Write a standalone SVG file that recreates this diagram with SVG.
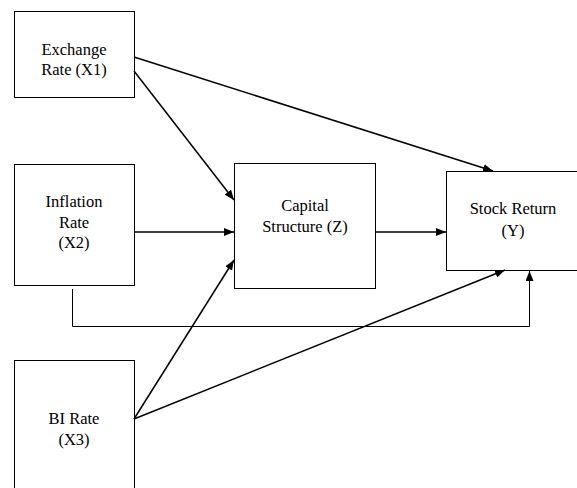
<svg xmlns="http://www.w3.org/2000/svg" width="577" height="488" viewBox="0 0 577 488">
<defs>
<marker id="arr" viewBox="0 0 10 8" refX="10" refY="4" markerWidth="10" markerHeight="8" markerUnits="userSpaceOnUse" orient="auto">
<path d="M0,0 L10,4 L0,8 Z" fill="#000"/>
</marker>
<style>
.box{fill:#fff;stroke:#000;stroke-width:1}
.c{fill:none;stroke:#000;stroke-width:1.5}
</style>
</defs>
<rect width="577" height="488" fill="#fff"/>
<g font-family="Liberation Serif" font-size="16.5" text-anchor="middle" fill="#000">
<g id="x1"><rect class="box" x="14.5" y="11.5" width="120" height="86"/><text x="74" y="55">Exchange</text><text x="74" y="75">Rate (X1)</text></g>
<g id="x2"><rect class="box" x="14.5" y="164.5" width="120" height="121"/><text x="74" y="207">Inflation</text><text x="74" y="228">Rate</text><text x="74" y="248">(X2)</text></g>
<g id="x3"><rect class="box" x="14.5" y="360.5" width="120" height="140"/><text x="74" y="424">BI Rate</text><text x="74" y="445">(X3)</text></g>
<g id="z"><rect class="box" x="234.5" y="163.5" width="141" height="125"/><text x="305" y="211">Capital</text><text x="305" y="232">Structure (Z)</text></g>
<g id="y"><rect class="box" x="446.5" y="171.5" width="140" height="99"/><text x="513" y="214">Stock Return</text><text x="513" y="236">(Y)</text></g>
</g>
<g id="connectors">
<line class="c" x1="134" y1="57" x2="493" y2="171" marker-end="url(#arr)"/>
<line class="c" x1="134" y1="71" x2="234" y2="200" marker-end="url(#arr)"/>
<line class="c" x1="134" y1="232" x2="234" y2="232" marker-end="url(#arr)"/>
<line class="c" x1="376" y1="232" x2="446" y2="232" marker-end="url(#arr)"/>
<polyline class="c" style="stroke-width:1" points="72.5,289 72.5,326.5 529.5,326.5 529.5,271" marker-end="url(#arr)"/>
<line class="c" x1="134" y1="419" x2="234" y2="260" marker-end="url(#arr)"/>
<line class="c" x1="134" y1="419" x2="505" y2="270" marker-end="url(#arr)"/>
</g>
</svg>
